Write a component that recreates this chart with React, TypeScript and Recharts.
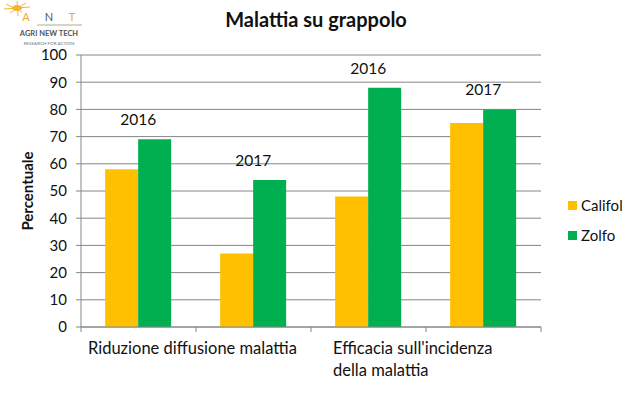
import React from 'react';
import { BarChart, Bar, XAxis, YAxis, CartesianGrid, Legend, LabelList } from 'recharts';

const categories = ['Riduzione 2016', 'Riduzione 2017', 'Efficacia 2016', 'Efficacia 2017'];
const years = ['2016', '2017', '2016', '2017'];
const califol = [58, 27, 48, 75];
const zolfo = [69, 54, 88, 80];
const groupLabels = [['Riduzione diffusione malattia'], [], ["Efficacia sull'incidenza", 'della malattia'], []];
const yTicks = [0, 10, 20, 30, 40, 50, 60, 70, 80, 90, 100];

const data = categories.map((name, i) => ({
    name,
    year: years[i],
    Califol: califol[i],
    Zolfo: zolfo[i],
}));

const W = 632;
const H = 399;
const MARGIN = { top: 55, right: 91, bottom: 0, left: 10 };
const X_AXIS_H = 72;
const Y_AXIS_W = 71;
const BAND = (W - MARGIN.left - Y_AXIS_W - MARGIN.right) / categories.length;
const AXIS = '#868686';
const FONT = 'Lato, "Open Sans", sans-serif';

const XTick = (props: any) => {
    const { x, y, index } = props;
    const half = BAND / 2;
    const lines = groupLabels[index] || [];
    const startX = index === 0 ? x + half - 108 : x + half - 93;
    return (
        <g>
            <line x1={x - half} x2={x - half} y1={y} y2={y + 5} stroke={AXIS} />
            {index === categories.length - 1 && (
                <line x1={x + half} x2={x + half} y1={y} y2={y + 5} stroke={AXIS} />
            )}
            {lines.length > 0 && (
                <text x={startX} y={y + 27} fill="#111" fontSize={16.5} fontFamily={FONT}>
                    {lines.map((l, i) => (
                        <tspan key={i} x={startX} dy={i === 0 ? 0 : 22}>{l}</tspan>
                    ))}
                </text>
            )}
        </g>
    );
};

const YearLabel = (props: any) => {
    const { x, y, value } = props;
    return (
        <text x={x} y={y - 14} textAnchor="middle" fill="#111" fontSize={15.5} fontFamily={FONT}>
            {value}
        </text>
    );
};

const LegendBox = (props: any) => {
    const { payload } = props;
    return (
        <div style={{ fontFamily: FONT, fontSize: 15, color: '#111' }}>
            {(payload || []).map((p: any) => (
                <div key={p.value} style={{ display: 'flex', alignItems: 'center', height: 30 }}>
                    <span style={{ display: 'inline-block', width: 9, height: 9, background: p.color, marginRight: 4 }} />
                    <span>{p.value}</span>
                </div>
            ))}
        </div>
    );
};

const App: React.FC = () => {
    return (
        <div style={{ position: 'absolute', left: 0, top: 0, width: W, height: H, background: '#fff' }}>
            <BarChart width={W} height={H} data={data} margin={MARGIN} barCategoryGap="21%" barGap={0}>
                <CartesianGrid vertical={false} stroke={AXIS} />
                <XAxis
                    dataKey="name"
                    stroke={AXIS}
                    tickLine={false}
                    tickSize={0}
                    tickMargin={0}
                    interval={0}
                    tick={<XTick />}
                    height={X_AXIS_H}
                />
                <YAxis
                    width={Y_AXIS_W}
                    domain={[0, 100]}
                    ticks={yTicks}
                    interval={0}
                    stroke={AXIS}
                    tickSize={5}
                    tickMargin={9}
                    tick={{ fill: '#111', fontSize: 15, fontFamily: FONT }}
                    label={{
                        content: (p: any) => (
                            <text
                                x={27}
                                y={p.viewBox.y + p.viewBox.height / 2}
                                transform={`rotate(-90, 27, ${p.viewBox.y + p.viewBox.height / 2})`}
                                textAnchor="middle"
                                dominantBaseline="central"
                                fontSize={15}
                                fontWeight="bold"
                                fontFamily={FONT}
                                fill="#111"
                            >
                                Percentuale
                            </text>
                        ),
                    }}
                />
                <Legend
                    layout="horizontal"
                    verticalAlign="middle"
                    align="center"
                    wrapperStyle={{ position: 'absolute', left: 568, top: 190, width: 64 }}
                    content={<LegendBox />}
                />
                <Bar dataKey="Califol" fill="#FFC000" isAnimationActive={false} />
                <Bar dataKey="Zolfo" fill="#00B050" isAnimationActive={false}>
                    <LabelList dataKey="year" content={<YearLabel />} />
                </Bar>
            </BarChart>
            <svg width={W} height={60} style={{ position: 'absolute', left: 0, top: 0, pointerEvents: 'none' }}>
                <g stroke="#F5B335" strokeWidth={1}>
                    <line x1={6} y1={4} x2={22} y2={12} />
                    <line x1={10} y1={13} x2={26} y2={3} />
                    <line x1={17} y1={1} x2={18} y2={16} />
                    <line x1={4} y1={9} x2={30} y2={7} />
                </g>
                <ellipse cx={17} cy={8} rx={5} ry={3} fill="#F5B335" />
                <text x={26} y={21} textAnchor="middle" fontSize={11} fill="#F0A830" fontFamily={FONT}>A</text>
                <text x={49} y={21} textAnchor="middle" fontSize={11} fill="#555" fontFamily={FONT}>N</text>
                <text x={72} y={21} textAnchor="middle" fontSize={11} fill="#F0A830" fontFamily={FONT}>T</text>
                <line x1={37} y1={25} x2={82} y2={25} stroke="#9a9a70" strokeWidth={0.8} />
                <text x={49} y={36} textAnchor="middle" fontSize={7.5} fontWeight="bold" fill="#555" fontFamily={FONT}>AGRI NEW TECH</text>
                <text x={49} y={45} textAnchor="middle" fontSize={4.5} fill="#777" fontFamily={FONT}>RESEARCH FOR ACTION</text>
                <text x={316} y={27} textAnchor="middle" fontSize={20} fontWeight="bold" fill="#111" fontFamily={FONT}>
                    Malattia su grappolo
                </text>
            </svg>
        </div>
    );
};

export default App;
